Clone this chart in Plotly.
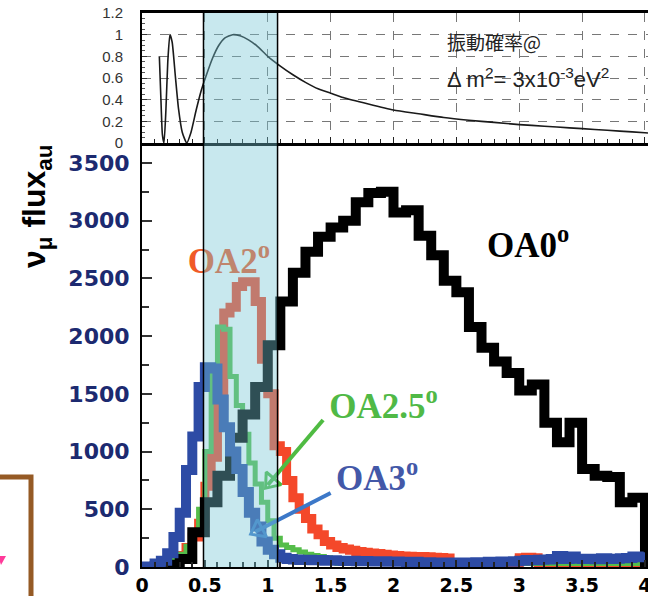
import numpy as np
import plotly.graph_objects as go

# ---------------- data ----------------
# top panel: oscillation probability vs neutrino energy (GeV)
osc_energy = [0.138, 0.150, 0.162, 0.175, 0.190, 0.205, 0.222, 0.240, 0.265, 0.290,
              0.320, 0.355, 0.390, 0.430, 0.470, 0.510, 0.560, 0.610, 0.660, 0.720,
              0.780, 0.850, 0.920, 1.000, 1.100, 1.200, 1.300, 1.400, 1.500, 1.600,
              1.800, 2.000, 2.200, 2.400, 2.600, 2.800, 3.000, 3.200, 3.400, 3.600,
              3.800, 4.000, 4.024]
osc_prob = [0.80, 0.42, 0.08, 0.00, 0.30, 0.75, 1.00, 0.93, 0.62, 0.32,
            0.10, 0.00, 0.10, 0.30, 0.48, 0.62, 0.78, 0.90, 0.97, 1.00,
            0.99, 0.95, 0.89, 0.80, 0.71, 0.63, 0.56, 0.50, 0.46, 0.42,
            0.36, 0.305, 0.27, 0.235, 0.21, 0.19, 0.17, 0.155, 0.14, 0.125,
            0.11, 0.095, 0.093]

# bottom panel: nu_mu flux histograms
bin_width_oa0 = 0.1
bin_width_oa = 0.05
flux_oa0 = [0, 5, 20, 70, 300, 560, 790, 1120, 1320, 1560,
            1920, 2300, 2550, 2730, 2860, 2940, 3000, 3160, 3240, 3250,
            3070, 3090, 2870, 2700, 2480, 2380, 2080, 1900, 1780, 1680,
            1530, 1580, 1250, 1080, 1250, 850, 790, 780, 560, 600]
flux_oa2 = [0, 0, 5, 15, 30, 60, 100, 170, 260, 380,
            700, 950, 1400, 2200, 2250, 2430, 2470, 2470, 2300, 1800,
            1500, 1050, 1000, 750, 600, 500, 420, 330, 280, 220,
            190, 170, 155, 145, 135, 128, 122, 116, 110, 105,
            100, 96, 94, 90, 92, 88, 85, 82, 78, 40,
            30, 30, 30, 30, 30, 30, 30, 30, 30, 30,
            80, 85, 80, 40, 30, 30, 30, 30, 30, 30,
            30, 30, 30, 30, 30, 30, 30, 30, 30, 30]
flux_oa25 = [0, 0, 5, 15, 30, 60, 110, 180, 300, 500,
             1000, 1700, 2080, 2060, 1650, 1400, 1150, 900, 720, 560,
             400, 250, 190, 170, 150, 130, 110, 100, 90, 80,
             40, 30, 30, 30, 30, 30, 30, 30, 30, 30,
             30, 30, 30, 30, 30, 30, 30, 30, 30, 30,
             30, 30, 30, 30, 30, 30, 30, 30, 30, 30,
             30, 30, 30, 30, 30, 30, 30, 30, 30, 30,
             30, 30, 30, 30, 30, 30, 30, 30, 30, 30]
flux_oa3 = [5, 5, 30, 55, 120, 260, 470, 840, 1130, 1560,
            1730, 1720, 1450, 1210, 1000, 850, 650, 470, 350, 220,
            150, 110, 80, 70, 65, 60, 62, 58, 60, 55,
            58, 55, 52, 55, 50, 52, 50, 48, 50, 45,
            48, 45, 42, 45, 40, 42, 40, 38, 40, 35,
            38, 35, 40, 42, 38, 45, 40, 48, 45, 50,
            55, 60, 58, 62, 65, 70, 95, 70, 90, 72,
            70, 72, 68, 75, 70, 72, 75, 78, 90, 85]

x_tick_vals = [0, 0.5, 1, 1.5, 2, 2.5, 3, 3.5, 4]
x_tick_text = ["0", "0.5", "1", "1.5", "2", "2.5", "3", "3.5", "4"]
y_tick_vals = [0, 500, 1000, 1500, 2000, 2500, 3000, 3500]
y_tick_text = ["0", "500", "1000", "1500", "2000", "2500", "3000", "3500"]
p_tick_vals = [0, 0.2, 0.4, 0.6, 0.8, 1.0, 1.2]
p_tick_text = ["0", "0.2", "0.4", "0.6", "0.8", "1", "1.2"]

band_range = [0.489, 1.078]  # energy window highlighted

labels = ["OA0<sup>o</sup>", "OA2<sup>o</sup>", "OA2.5<sup>o</sup>", "OA3<sup>o</sup>"]

# ---------------- figure ----------------
X_MAX = 4.024
Y_MAX = 3673
SPLIT = (567 - 143) / 554.0


def pxx(px):
    return (px - 142) / 506.0


def pxy(py):
    return (567 - py) / 554.0


def steps(width, vals, close=False):
    n = len(vals)
    edges = np.round(np.arange(n + 1) * width, 4)
    x = list(edges[:-1]) + [edges[-1]]
    y = list(vals) + [0 if close else vals[-1]]
    return x, y


C_RED = "#f4482a"
C_GREEN = "#55bd4a"
C_BLUE = "#2d4ba5"
C_BLACK = "#000000"

fig = go.Figure()

# top panel curve
fig.add_trace(go.Scatter(x=osc_energy, y=osc_prob, xaxis="x2", yaxis="y2", mode="lines",
                         line=dict(color="#1a1a1a", width=1.6, shape="spline", smoothing=0.5),
                         hoverinfo="skip"))

# histograms
x2, y2 = steps(bin_width_oa, flux_oa2)
fig.add_trace(go.Scatter(x=x2, y=y2, mode="lines", line=dict(color=C_RED, width=9, shape="hv"),
                         hoverinfo="skip"))
x25, y25 = steps(bin_width_oa, flux_oa25)
fig.add_trace(go.Scatter(x=x25, y=y25, mode="lines", line=dict(color=C_GREEN, width=5, shape="hv"),
                         hoverinfo="skip"))
x0, y0 = steps(bin_width_oa0, flux_oa0, close=True)
fig.add_trace(go.Scatter(x=x0, y=y0, mode="lines", line=dict(color=C_BLACK, width=10, shape="hv"),
                         hoverinfo="skip"))
x3, y3 = steps(bin_width_oa, flux_oa3)
fig.add_trace(go.Scatter(x=x3, y=y3, mode="lines", line=dict(color=C_BLUE, width=10, shape="hv"),
                         hoverinfo="skip"))

# arrows: shaft + open triangular head
for (xa, ya, head_xy, head_angle, col) in [
        ([1.44, 1.00], [1274, 710], (1.026, 740), 220, "#4fbb42"),
        ([1.50, 0.90], [641, 305], (0.924, 319), 242, "#3c78c8")]:
    fig.add_trace(go.Scatter(x=xa, y=ya, mode="lines", line=dict(color=col, width=4),
                             cliponaxis=False, hoverinfo="skip"))
    fig.add_trace(go.Scatter(x=[head_xy[0]], y=[head_xy[1]], mode="markers",
                             marker=dict(symbol="triangle-up-open", size=17, angle=head_angle,
                                         color=col, line=dict(width=3, color=col)),
                             cliponaxis=False, hoverinfo="skip"))

# labels (as text traces so the band overlays them)
serif = dict(family="Liberation Serif", size=35, weight="bold")
for (lx, ly, txt, col) in [(3.07, 2764, labels[0], C_BLACK),
                           (0.69, 2626, labels[1], "#f05a28"),
                           (1.92, 1369, labels[2], "#50b946"),
                           (1.87, 745, labels[3], "#4358a8")]:
    fig.add_trace(go.Scatter(x=[lx], y=[ly], mode="text", text=[txt],
                             textfont=dict(color=col, **serif), textposition="middle center",
                             cliponaxis=False, hoverinfo="skip"))

shapes = [
    dict(type="rect", xref="x", yref="paper", x0=band_range[0], x1=band_range[1], y0=0, y1=1,
         fillcolor="rgb(117,198,212)", opacity=0.4, line=dict(width=0), layer="above"),
    dict(type="line", xref="x", yref="paper", x0=band_range[0], x1=band_range[0], y0=0, y1=1,
         line=dict(color="black", width=1.5), layer="above"),
    dict(type="line", xref="x", yref="paper", x0=band_range[1], x1=band_range[1], y0=0, y1=1,
         line=dict(color="black", width=1.5), layer="above"),
    # brown frame fragment at the lower-left edge
    dict(type="path", xref="paper", yref="paper",
         path=f"M {pxx(-10)},{pxy(477)} L {pxx(31)},{pxy(477)} L {pxx(31)},{pxy(605)}",
         line=dict(color="#955a25", width=5)),
    dict(type="path", xref="paper", yref="paper",
         path=f"M {pxx(-2)},{pxy(556)} L {pxx(6)},{pxy(556)} L {pxx(1)},{pxy(565)} Z",
         fillcolor="#ff3a9a", line=dict(width=0)),
]

annotations = [
    dict(text="ν<sub>μ</sub> flux<sub>au</sub>", xref="paper", yref="paper",
         x=pxx(36), y=pxy(207), textangle=-90, showarrow=False,
         xanchor="center", yanchor="middle",
         font=dict(family="Liberation Sans", size=32, color="black", weight="bold")),
    dict(text="振動確率@", xref="paper", yref="paper", x=pxx(445), y=pxy(42),
         xanchor="left", yanchor="middle", showarrow=False,
         font=dict(family="Noto Sans CJK JP", size=19, color="#222")),
    dict(text="Δ m<sup>2</sup>= 3x10<sup>-3</sup>eV<sup>2</sup>", xref="paper", yref="paper",
         x=pxx(445), y=pxy(78), xanchor="left", yanchor="middle", showarrow=False,
         font=dict(family="Liberation Sans", size=22, color="#222")),
]

fig.update_layout(
    width=648, height=596,
    margin=dict(l=142, r=0, t=13, b=29, autoexpand=False),
    paper_bgcolor="white", plot_bgcolor="white",
    showlegend=False,
    shapes=shapes, annotations=annotations,
    xaxis=dict(domain=[0, 1], range=[0, X_MAX], anchor="y", automargin=False,
               tickmode="array", tickvals=x_tick_vals, ticktext=x_tick_text,
               ticks="inside", ticklen=7, tickwidth=1.5, tickcolor="#222",
               minor=dict(tick0=0, dtick=0.1, ticks="inside", ticklen=5, tickcolor="#222"),
               showline=True, linecolor="black", linewidth=2,
               showgrid=False, zeroline=False, ticklabeloverflow="allow",
               tickfont=dict(family="DejaVu Sans", size=19, color="black", weight="bold"),
               ticklabelstandoff=0),
    yaxis=dict(domain=[0, SPLIT], range=[0, Y_MAX], anchor="x", automargin=False,
               tickmode="array", tickvals=y_tick_vals, ticktext=y_tick_text,
               ticks="inside", ticklen=10, tickwidth=1.5, tickcolor="#333",
               minor=dict(tick0=0, dtick=250, ticks="inside", ticklen=7, tickcolor="#333"),
               showline=True, linecolor="black", linewidth=2,
               showgrid=False, zeroline=False, ticklabeloverflow="allow",
               tickfont=dict(family="DejaVu Sans", size=22, color="#1c2a70", weight="bold"),
               ticklabelstandoff=6),
    xaxis2=dict(domain=[0, 1], range=[0, X_MAX], anchor="y2", automargin=False,
                tickmode="array", tickvals=x_tick_vals, showticklabels=False,
                ticks="inside", ticklen=6, tickcolor="#222",
                minor=dict(tick0=0, dtick=0.1, ticks="inside", ticklen=4, tickcolor="#222"),
                showgrid=True, gridcolor="#777", griddash="dash", gridwidth=1,
                showline=True, linecolor="black", linewidth=2.5, mirror=True,
                zeroline=False),
    yaxis2=dict(domain=[SPLIT, 1], range=[0, 1.2], anchor="x2", automargin=False,
                tickmode="array", tickvals=p_tick_vals, ticktext=p_tick_text,
                ticks="inside", ticklen=5, tickcolor="#333",
                minor=dict(tick0=0, dtick=0.05, ticks="inside", ticklen=3, tickcolor="#555"),
                showgrid=True, gridcolor="#777", griddash="dash", gridwidth=1,
                showline=True, linecolor="black", linewidth=2,
                zeroline=False, ticklabeloverflow="allow",
                tickfont=dict(family="Liberation Sans", size=15, color="#333"),
                ticklabelstandoff=14),
)

fig.write_html("out.html", config={"displayModeBar": False},
               post_script="document.body.style.margin='0px';document.body.style.overflow='hidden';")
